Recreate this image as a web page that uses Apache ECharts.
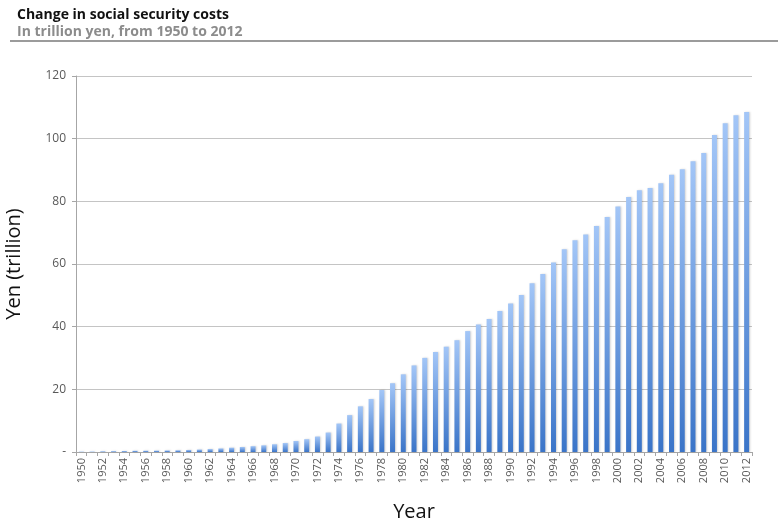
<!DOCTYPE html>
<html>
<head>
<meta charset="utf-8">
<script src="https://cdn.jsdelivr.net/npm/echarts@6/dist/echarts.min.js"></script>
<style>
  html, body { margin: 0; padding: 0; background: #fff; }
  #chart { width: 782px; height: 523px; }
</style>
</head>
<body>
<div id="chart"></div>
<script>
// years 1950..2012
const years = [
  "1950", "1951", "1952", "1953", "1954", "1955", "1956", "1957", "1958", "1959",
  "1960", "1961", "1962", "1963", "1964", "1965", "1966", "1967", "1968", "1969",
  "1970", "1971", "1972", "1973", "1974", "1975", "1976", "1977", "1978", "1979",
  "1980", "1981", "1982", "1983", "1984", "1985", "1986", "1987", "1988", "1989",
  "1990", "1991", "1992", "1993", "1994", "1995", "1996", "1997", "1998", "1999",
  "2000", "2001", "2002", "2003", "2004", "2005", "2006", "2007", "2008", "2009",
  "2010", "2011", "2012"
];

// social security costs, trillion yen
const costs = [
  0.13, 0.16, 0.22, 0.26, 0.3, 0.39, 0.41, 0.44, 0.5, 0.55,
  0.65, 0.79, 0.94, 1.14, 1.37, 1.6, 1.86, 2.13, 2.47, 2.86,
  3.52, 4.09, 4.93, 6.21, 9.08, 11.77, 14.57, 16.9, 19.78, 21.95,
  24.79, 27.63, 30.04, 31.92, 33.61, 35.68, 38.59, 40.7, 42.48, 45.02,
  47.42, 50.1, 53.83, 56.83, 60.47, 64.73, 67.54, 69.4, 72.13, 75.02,
  78.36, 81.41, 83.57, 84.27, 85.8, 88.5, 90.2, 92.8, 95.4, 101.2,
  104.9, 107.5, 108.5
];

const chart = echarts.init(document.getElementById("chart"));

const labelFont = "'Open Sans', 'Liberation Sans', sans-serif";

chart.setOption({
  animation: false,
  backgroundColor: "#fff",
  textStyle: { fontFamily: labelFont },
  title: [
    {
      text: "Change in social security costs",
      left: 12,
      top: 3,
      textStyle: { fontSize: 14, fontWeight: "bold", color: "#111", fontFamily: labelFont }
    },
    {
      text: "In trillion yen, from 1950 to 2012",
      left: 12,
      top: 20,
      textStyle: { fontSize: 14, fontWeight: "bold", color: "#8c8c8c", fontFamily: labelFont }
    }
  ],
  graphic: [
    {
      type: "line",
      shape: { x1: 10, y1: 41, x2: 778, y2: 41 },
      style: { stroke: "#7a7a7a", lineWidth: 1.5 }
    }
  ],
  grid: { left: 76, right: 30, top: 76, bottom: 71, outerBoundsMode: "none", containLabel: false },
  xAxis: {
    type: "category",
    data: years,
    name: "Year",
    nameLocation: "middle",
    nameGap: 50,
    nameTextStyle: { fontSize: 20, color: "#111", fontFamily: labelFont },
    axisLine: { lineStyle: { color: "#a6a6a6" } },
    axisTick: { show: true, interval: 0, length: 4, lineStyle: { color: "#a6a6a6" } },
    axisLabel: {
      interval: 1,
      rotate: 90,
      fontSize: 11,
      color: "#595959",
      margin: 6
    }
  },
  yAxis: {
    type: "value",
    min: 0,
    max: 120,
    interval: 20,
    name: "Yen (trillion)",
    nameLocation: "middle",
    nameGap: 52,
    nameTextStyle: { fontSize: 20, color: "#111", fontFamily: labelFont },
    axisLine: { show: true, lineStyle: { color: "#a6a6a6" } },
    axisTick: { show: true, length: 4, lineStyle: { color: "#a6a6a6" } },
    axisLabel: {
      fontSize: 12,
      color: "#595959",
      margin: 10,
      formatter: v => (v === 0 ? "-" : String(v))
    },
    splitLine: { lineStyle: { color: "#c4c4c4", width: 1 } }
  },
  series: [
    {
      type: "bar",
      data: costs,
      barWidth: 5,
      itemStyle: {
        color: new echarts.graphic.LinearGradient(0, 0, 0, 1, [
          { offset: 0, color: "#a3c6f7" },
          { offset: 1, color: "#3a74c8" }
        ]),
        shadowColor: "rgba(0,0,0,0.18)",
        shadowBlur: 2,
        shadowOffsetX: 1
      }
    }
  ]
});
</script>
</body>
</html>
